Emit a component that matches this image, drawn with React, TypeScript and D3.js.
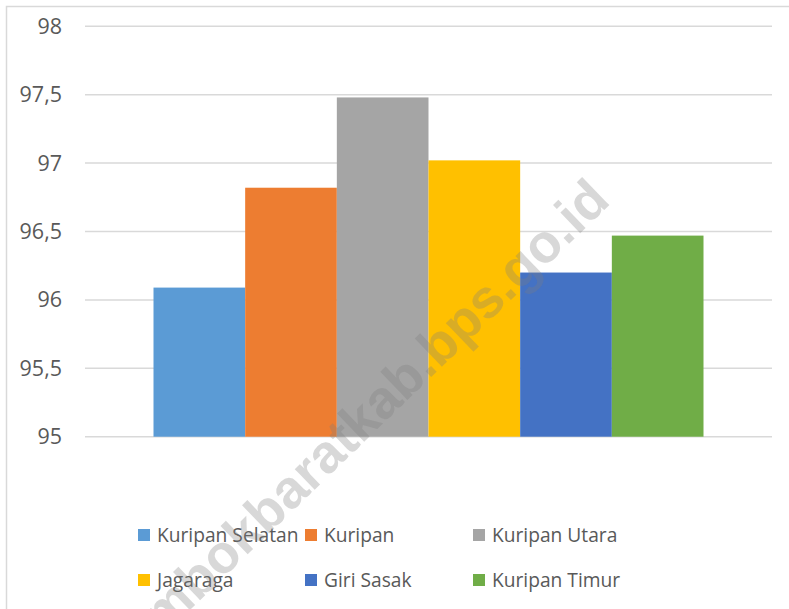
import React, { useRef, useEffect } from "react";
import * as d3 from "d3";

const categories = [
  "Kuripan Selatan",
  "Kuripan",
  "Kuripan Utara",
  "Jagaraga",
  "Giri Sasak",
  "Kuripan Timur",
];
const values = [96.09, 96.82, 97.48, 97.02, 96.2, 96.47];
const colors = ["#5b9bd5", "#ed7d31", "#a5a5a5", "#ffc000", "#4472c4", "#70ad47"];
const yTicks = [95, 95.5, 96, 96.5, 97, 97.5, 98];

const W = 789;
const H = 609;

const App = () => {
  const svgRef = useRef<SVGSVGElement>(null);

  useEffect(() => {
    const svg = d3.select(svgRef.current);
    svg.selectAll("*").remove();

    const left = 85;
    const right = 772;
    const top = 26.3;
    const bottom = 436.7;

    // frame
    svg
      .append("rect")
      .attr("x", 6.5)
      .attr("y", 6.5)
      .attr("width", W + 10)
      .attr("height", H + 10)
      .attr("fill", "white")
      .attr("stroke", "#d9d9d9")
      .attr("stroke-width", 1.5);

    const y = d3.scaleLinear().domain([95, 98]).range([bottom, top]);

    // one category group, 6 series, gap width ~25%
    const x = d3
      .scaleBand()
      .domain(categories)
      .range([left + 68.5, right - 68.5])
      .paddingInner(0)
      .paddingOuter(0);

    // grid
    svg
      .append("g")
      .selectAll("line")
      .data(yTicks)
      .enter()
      .append("line")
      .attr("x1", left)
      .attr("x2", right)
      .attr("y1", (d) => y(d))
      .attr("y2", (d) => y(d))
      .attr("stroke", "#d9d9d9")
      .attr("stroke-width", 1.5);

    // y labels
    svg
      .append("g")
      .selectAll("text")
      .data(yTicks)
      .enter()
      .append("text")
      .attr("x", 62)
      .attr("y", (d) => y(d))
      .attr("dy", "0.35em")
      .attr("text-anchor", "end")
      .attr("font-family", "Open Sans, sans-serif")
      .attr("font-size", 21.5)
      .attr("fill", "#595959")
      .text((d) => String(d).replace(".", ","));

    // bars
    svg
      .append("g")
      .selectAll("rect")
      .data(values)
      .enter()
      .append("rect")
      .attr("x", (d, i) => x(categories[i])!)
      .attr("width", x.bandwidth())
      .attr("y", (d) => y(d))
      .attr("height", (d) => bottom - y(d))
      .attr("fill", (d, i) => colors[i]);

    // legend
    const colX = [138, 305, 473];
    const rowY = [535, 580];
    const lg = svg
      .append("g")
      .selectAll("g")
      .data(categories)
      .enter()
      .append("g")
      .attr(
        "transform",
        (d, i) => `translate(${colX[i % 3]}, ${rowY[Math.floor(i / 3)]})`
      );
    lg.append("rect")
      .attr("x", 0)
      .attr("y", -6)
      .attr("width", 12)
      .attr("height", 12)
      .attr("fill", (d, i) => colors[i]);
    lg.append("text")
      .attr("x", 19)
      .attr("y", 0)
      .attr("dy", "0.35em")
      .attr("font-family", "Open Sans, sans-serif")
      .attr("font-size", 19.2)
      .attr("fill", "#595959")
      .text((d) => d);

    // watermark
    svg
      .append("text")
      .attr("transform", "translate(163,636) rotate(-44)")
      .attr("text-anchor", "start")
      .attr("font-family", "Liberation Sans, Arial, sans-serif")
      .attr("font-weight", "bold")
      .attr("font-size", 54)
      .attr("fill", "#7f7f7f")
      .attr("fill-opacity", 0.3)
      .text("mbokbaratkab.bps.go.id");
  }, []);

  return (
    <div style={{ position: "absolute", left: 0, top: 0 }}>
      <svg ref={svgRef} width={W} height={H}></svg>
    </div>
  );
};

export default App;
